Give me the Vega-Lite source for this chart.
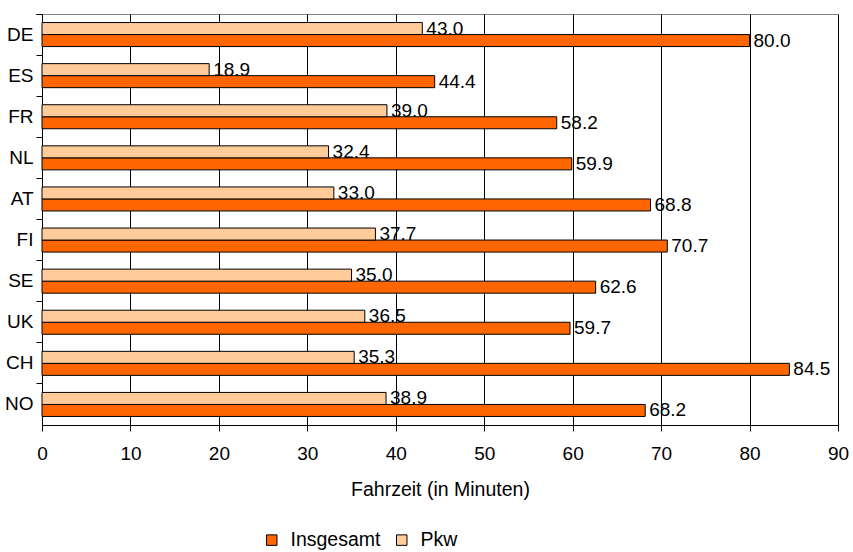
{
  "$schema": "https://vega.github.io/schema/vega-lite/v6.json",
  "autosize": {"type": "none"},
  "padding": {"left": 42, "top": 14, "right": 15, "bottom": 127},
  "width": 796,
  "height": 411,
  "background": "white",
  "config": {
    "font": "Liberation Sans",
    "view": {"stroke": "#808080", "strokeWidth": 1}
  },
  "data": {
    "values": [
      {"land": "DE", "serie": "Insgesamt", "wert": 80.0},
      {"land": "ES", "serie": "Insgesamt", "wert": 44.4},
      {"land": "FR", "serie": "Insgesamt", "wert": 58.2},
      {"land": "NL", "serie": "Insgesamt", "wert": 59.9},
      {"land": "AT", "serie": "Insgesamt", "wert": 68.8},
      {"land": "FI", "serie": "Insgesamt", "wert": 70.7},
      {"land": "SE", "serie": "Insgesamt", "wert": 62.6},
      {"land": "UK", "serie": "Insgesamt", "wert": 59.7},
      {"land": "CH", "serie": "Insgesamt", "wert": 84.5},
      {"land": "NO", "serie": "Insgesamt", "wert": 68.2},
      {"land": "DE", "serie": "Pkw", "wert": 43.0},
      {"land": "ES", "serie": "Pkw", "wert": 18.9},
      {"land": "FR", "serie": "Pkw", "wert": 39.0},
      {"land": "NL", "serie": "Pkw", "wert": 32.4},
      {"land": "AT", "serie": "Pkw", "wert": 33.0},
      {"land": "FI", "serie": "Pkw", "wert": 37.7},
      {"land": "SE", "serie": "Pkw", "wert": 35.0},
      {"land": "UK", "serie": "Pkw", "wert": 36.5},
      {"land": "CH", "serie": "Pkw", "wert": 35.3},
      {"land": "NO", "serie": "Pkw", "wert": 38.9}
    ]
  },
  "encoding": {
    "y": {
      "field": "land",
      "type": "nominal",
      "sort": ["DE", "ES", "FR", "NL", "AT", "FI", "SE", "UK", "CH", "NO"],
      "scale": {"padding": 0},
      "axis": {
        "title": null,
        "labelFontSize": 19,
        "labelColor": "black",
        "labelPadding": 3,
        "bandPosition": 0,
        "tickExtra": true,
        "tickColor": "black",
        "tickSize": 6,
        "domainColor": "black",
        "grid": false
      }
    },
    "yOffset": {
      "field": "serie",
      "type": "nominal",
      "sort": ["Pkw", "Insgesamt"],
      "scale": {"paddingInner": 0, "paddingOuter": 0.71}
    },
    "x": {
      "field": "wert",
      "type": "quantitative",
      "scale": {"domain": [0, 90], "nice": false},
      "axis": {
        "title": "Fahrzeit (in Minuten)",
        "titleFontSize": 19.5,
        "titleFontWeight": "normal",
        "titleColor": "black",
        "titlePadding": 17,
        "values": [0, 10, 20, 30, 40, 50, 60, 70, 80, 90],
        "labelFlush": false,
        "labelFontSize": 19,
        "labelColor": "black",
        "labelPadding": 13,
        "tickColor": "black",
        "tickSize": 6,
        "domainColor": "black",
        "grid": true,
        "gridColor": "black",
        "gridOpacity": 1
      }
    }
  },
  "layer": [
    {
      "mark": {"type": "bar", "stroke": "black", "strokeWidth": 1},
      "encoding": {
        "color": {
          "field": "serie",
          "type": "nominal",
          "sort": ["Insgesamt", "Pkw"],
          "scale": {"domain": ["Insgesamt", "Pkw"], "range": ["#FF6600", "#FFCC99"]},
          "legend": {
            "title": null,
            "orient": "none",
            "direction": "horizontal",
            "legendX": 220,
            "legendY": 516,
            "symbolType": "square",
            "symbolSize": 110,
            "symbolStrokeColor": "black",
            "symbolStrokeWidth": 1,
            "labelFontSize": 19.5,
            "labelColor": "black",
            "columnPadding": 11,
            "labelOffset": 9
          }
        }
      }
    },
    {
      "mark": {"type": "text", "align": "left", "baseline": "middle", "dx": 4, "fontSize": 19, "color": "black"},
      "encoding": {
        "text": {"field": "wert", "type": "quantitative", "format": ".1f"}
      }
    }
  ]
}
